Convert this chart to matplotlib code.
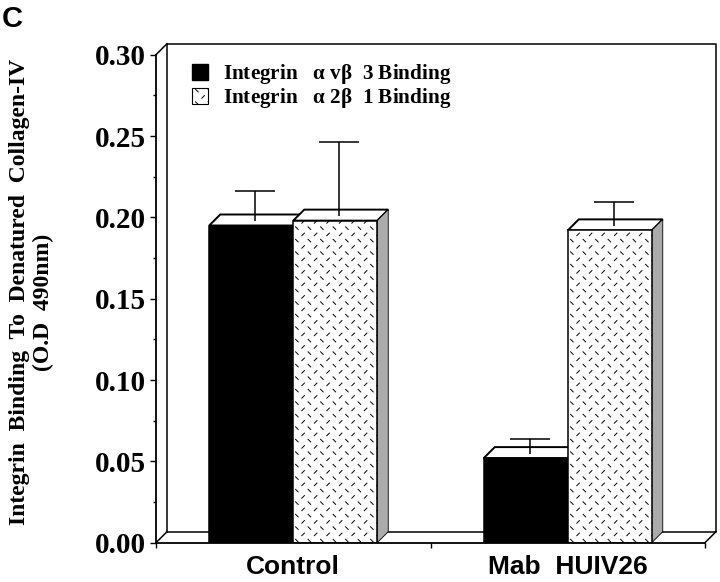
import numpy as np
import matplotlib
matplotlib.use("Agg")
import matplotlib.pyplot as plt
import matplotlib.hatch as mhatch
from matplotlib.path import Path
from matplotlib.patches import Patch
from matplotlib.transforms import ScaledTranslation

groups = ["Control", "Mab  HUIV26"]
avb3_values = [0.195, 0.052]
a2b1_values = [0.198, 0.192]
avb3_err_top = [0.2165, 0.0638]
a2b1_err_top = [0.2466, 0.2095]
legend_labels = [r"Integrin   $\mathrm{\alpha}$ v$\mathrm{\beta}$  3 Binding",
                 r"Integrin   $\mathrm{\alpha}$ 2$\mathrm{\beta}$  1 Binding"]
y_ticks = [0.00, 0.05, 0.10, 0.15, 0.20, 0.25, 0.30]


# diamond plate pattern, the builtin hatches do not have it
class DiamondPlate(mhatch.HatchPatternBase):
    def __init__(self, hatch, density):
        self.num_vertices = 128 * 2 if "p" in hatch else 0
        self.num_lines = 128

    def set_vertices_and_codes(self, vertices, codes):
        n = 8
        step = 1.0 / n
        half = 0.013
        k = 0
        for i in range(n):
            for j in range(n):
                cx = (i + 0.25) * step
                cy = (j + 0.25) * step
                # one / and one \ per tile, half a tile apart
                vertices[k:k + 2] = [[cx - half, cy - half], [cx + half, cy + half]]
                codes[k:k + 2] = [Path.MOVETO, Path.LINETO]
                k += 2
                cx2 = cx + step / 2
                cy2 = (cy + step / 2) % 1.0
                vertices[k:k + 2] = [[cx2 - half, cy2 + half], [cx2 + half, cy2 - half]]
                codes[k:k + 2] = [Path.MOVETO, Path.LINETO]
                k += 2


mhatch._hatch_types.append(DiamondPlate)

plt.rcParams["font.family"] = "Liberation Serif"
plt.rcParams["font.weight"] = "bold"
plt.rcParams["mathtext.fontset"] = "custom"
plt.rcParams["mathtext.rm"] = "Liberation Serif"
plt.rcParams["mathtext.default"] = "regular"
plt.rcParams["hatch.linewidth"] = 0.7

W, H = 720, 582
fig = plt.figure(figsize=(W / 100, H / 100), dpi=100)
ax = fig.add_axes([156 / W, (H - 542.7) / H, 549 / W, 488 / H])
ax.set_xlim(-0.5, 1.5)
ax.set_ylim(0, 0.30)

# depth of the fake 3D, in pixels and in data units
depth = 11
dx = depth * 2 / 549
dy = depth * 0.30 / 488
bar_w = 84 / 274.5
err_shift = 4 / 274.5
lw = 1.1

# back walls
back = ax.transData + ScaledTranslation(depth / 100, depth / 100, fig.dpi_scale_trans)
ax.plot([-0.5, -0.5, 1.5, 1.5, -0.5], [0, 0.30, 0.30, 0, 0], color="k", lw=lw,
        transform=back, clip_on=False, zorder=1)
for xc in [-0.5, 1.5]:
    ax.plot([xc, xc + dx], [0, dy], color="k", lw=lw, clip_on=False, zorder=1)
ax.plot([-0.5, -0.5 + dx], [0.30, 0.30 + dy], color="k", lw=lw, clip_on=False, zorder=1)


def draw_bars(x_left, values, err_top, face, hatch, z):
    for x0, v, top in zip(x_left, values, err_top):
        x1 = x0 + bar_w
        # top face and right side
        ax.fill([x0, x1, x1 + dx, x0 + dx], [v, v, v + dy, v + dy], facecolor="white",
                edgecolor="k", lw=lw + 0.3, clip_on=False, zorder=z)
        ax.fill([x1, x1 + dx, x1 + dx, x1], [0, dy, v + dy, v], facecolor="#ababab",
                edgecolor="k", lw=0.6, clip_on=False, zorder=z)
        ax.bar(x0, v, width=bar_w, align="edge", facecolor=face, edgecolor="k",
               lw=lw, hatch=hatch, zorder=z + 0.1)
        # error bar only goes up, starts on the top face
        xe = (x0 + x1) / 2 + err_shift
        base = v + dy * 0.4
        eb = ax.errorbar(xe, base, yerr=[[0], [top - base]], color="k", lw=lw, capsize=14.5,
                         capthick=lw, zorder=z + 0.2, clip_on=False)
        eb[1][0].set_visible(False)


x_pos = np.arange(len(groups))
draw_bars(x_pos - bar_w, avb3_values, avb3_err_top, "black", None, 3)
draw_bars(x_pos, a2b1_values, a2b1_err_top, "white", "p", 4)

# axes
for s in ["top", "right"]:
    ax.spines[s].set_visible(False)
for s in ["left", "bottom"]:
    ax.spines[s].set_linewidth(1.3)
    ax.spines[s].set_zorder(6)

ax.set_yticks(y_ticks)
ax.set_yticklabels(["%.2f" % t for t in y_ticks], fontsize=21, fontweight="bold")
ax.set_yticks(np.array(y_ticks[:-1]) + 0.025, minor=True)
ax.tick_params(axis="y", which="major", length=4.5, width=1, pad=3)
ax.tick_params(axis="y", which="minor", length=2.2, width=1)

ax.set_xticks([-0.5, 0.5, 1.5])
ax.set_xticklabels([])
ax.set_xticks(x_pos, minor=True)
ax.set_xticklabels(groups, minor=True, fontsize=19, fontweight="bold", family="Liberation Sans")
ax.tick_params(axis="x", which="major", length=3.5, width=1)
ax.tick_params(axis="x", which="minor", length=0, pad=9)

handles = [Patch(facecolor="black", edgecolor="k"),
           Patch(facecolor="white", edgecolor="k", hatch="p", lw=0.8)]
ax.legend(handles, legend_labels, loc="upper left", bbox_to_anchor=(36 / 549, 0.985),
          frameon=False, handlelength=0.77, handleheight=0.8,
          handletextpad=0.72, labelspacing=0.02, borderaxespad=0, borderpad=0,
          prop={"family": "Liberation Serif", "weight": "bold", "size": 15.2})

fig.text(20 / W, 1 - 292 / H, "Integrin  Binding  To  Denatured  Collagen-IV", rotation=90,
         ha="center", va="center", fontsize=17, fontweight="bold")
fig.text(43 / W, 1 - 302 / H, "(O.D  490nm)", rotation=90,
         ha="center", va="center", fontsize=17, fontweight="bold")
fig.text(2 / W, 1 - 27 / H, "C", fontsize=21, fontweight="bold", family="Liberation Sans")

fig.savefig("out.png", dpi=100)
